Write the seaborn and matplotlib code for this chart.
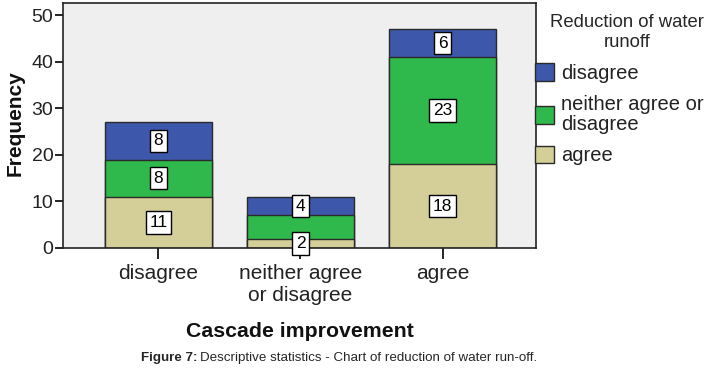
import matplotlib
matplotlib.use("Agg")
import matplotlib.pyplot as plt
import seaborn as sns
import pandas as pd
from matplotlib.patches import Patch

categories = ["disagree", "neither agree\nor disagree", "agree"]
series_names = ["disagree", "neither agree or\ndisagree", "agree"]
agree_vals = [11, 2, 18]
neither_vals = [8, 5, 23]
disagree_vals = [8, 4, 6]
# which segment labels the reference displays (agree, neither, disagree)
show_labels = [[True, True, True], [True, False, True], [True, True, True]]

c_blue = "#3d57aa"
c_green = "#2fb84b"
c_tan = "#d4cf98"
edge = "#2a2a2a"

sns.set_theme(style="white")
plt.rcParams['font.family'] = ['Liberation Sans', 'DejaVu Sans']

fig = plt.figure(figsize=(7.1, 3.73), dpi=100)
ax = fig.add_axes([63/710, 125/373, (536-63)/710, (248-3)/373])
ax.set_facecolor("#efefef")

df = pd.DataFrame({"cat": categories, "agree": agree_vals,
                   "neither": neither_vals, "disagree": disagree_vals})
df["c1"] = df["agree"]
df["c2"] = df["agree"] + df["neither"]
df["c3"] = df["c2"] + df["disagree"]

for col, color in [("c3", c_blue), ("c2", c_green), ("c1", c_tan)]:
    sns.barplot(data=df, x="cat", y=col, color=color, width=0.75,
                edgecolor=edge, linewidth=1.0, saturation=1, ax=ax,
                order=categories)

# value labels
for i in range(len(categories)):
    bottom = 0
    for j, vals in enumerate((agree_vals, neither_vals, disagree_vals)):
        v = vals[i]
        if show_labels[i][j]:
            ax.text(i, bottom + v / 2, str(v), ha="center", va="center",
                    fontsize=12.5, color="black", zorder=5,
                    bbox=dict(boxstyle="square,pad=0.22", fc="white", ec="black", lw=1.0))
        bottom += v

ax.set_ylim(0, 52.6)
ax.set_xlim(-0.672, 2.658)
ax.set_yticks([0, 10, 20, 30, 40, 50])
ax.tick_params(axis="y", which="major", left=True, length=6, width=1.2,
               color="black", labelsize=14, pad=1, labelcolor="#222222")
ax.tick_params(axis="x", which="major", bottom=True, length=8, width=1.2,
               color="black", labelsize=15, pad=3.5, labelcolor="#222222")
for s in ax.spines.values():
    s.set_visible(True)
    s.set_color("#222222")
    s.set_linewidth(1.2)
ax.set_ylabel("Frequency", fontsize=15, fontweight="bold", color="#111111")
ax.yaxis.set_label_coords((25 - 63) / 473, 0.51)
ax.set_xlabel("Cascade improvement", fontsize=15.3, fontweight="bold", labelpad=12, color="#111111")

handles = [Patch(facecolor=c, edgecolor=edge, linewidth=1.0) for c in (c_blue, c_green, c_tan)]
leg = fig.legend(handles, series_names, loc="upper left",
                 bbox_to_anchor=(535/710, 1 - 14/373), frameon=False,
                 fontsize=14.5, title="Reduction of water\nrunoff", title_fontsize=13.3,
                 handlelength=0.95, handleheight=0.95, handletextpad=0.35,
                 borderpad=0, borderaxespad=0, labelspacing=0.6, alignment="right")
leg.get_title().set_multialignment("center")
leg.get_title().set_linespacing(1.25)
for t in leg.get_texts():
    t.set_color("#222222")
    t.set_linespacing(1.05)

# caption
fig.canvas.draw()
r = fig.canvas.get_renderer()
t1 = fig.text(141/710, 1 - 358/373, "Figure 7:", fontsize=9.6, fontweight="bold",
              ha="left", va="center")
bb = t1.get_window_extent(renderer=r)
fig.text(bb.x1/710 + 3/710, 1 - 358/373, "Descriptive statistics - Chart of reduction of water run-off.",
         fontsize=9.6, ha="left", va="center")

fig.savefig("out.png", dpi=100)
